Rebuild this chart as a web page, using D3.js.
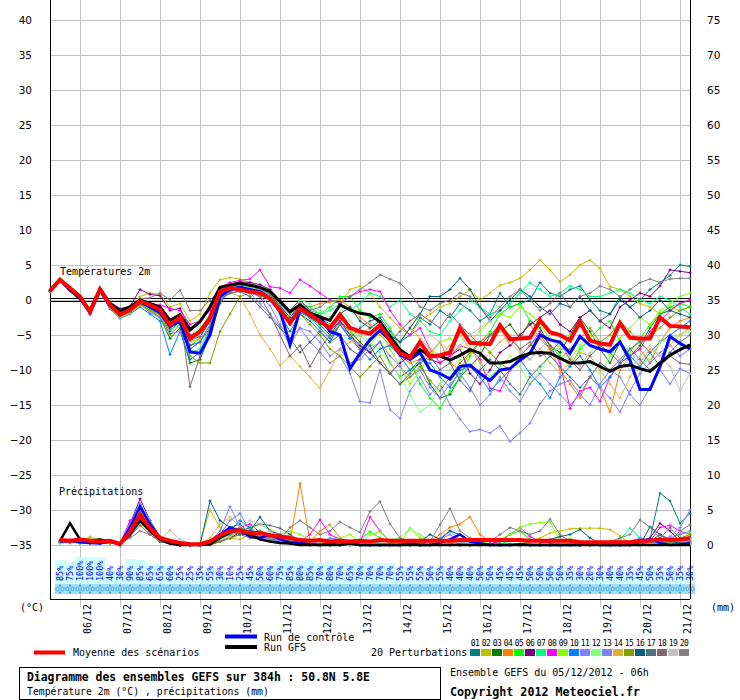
<!DOCTYPE html>
<html><head><meta charset="utf-8">
<script src="https://cdn.jsdelivr.net/npm/d3@7"></script>
<style>body{margin:0;background:#fff}svg{display:block}</style>
</head><body>
<svg id="c" width="740" height="700"></svg>
<script>
// ---------- tick labels / categories ----------
const tempTicks = [40,35,30,25,20,15,10,5,0,-5,-10,-15,-20,-25,-30,-35];
const precipTicks = [75,70,65,60,55,50,45,40,35,30,25,20,15,10,5,0];
const dates = ["06/12","07/12","08/12","09/12","10/12","11/12","12/12","13/12","14/12","15/12","16/12","17/12","18/12","19/12","20/12","21/12"];
const pertLabels = ["01","02","03","04","05","06","07","08","09","10","11","12","13","14","15","16","17","18","19","20"];
const pertColors = ["#008080","#c0c000","#008000","#ff8000","#00ff00","#800080","#00ff80","#ff00ff","#80ff00","#0080ff","#8080ff","#80ff80","#8080ff","#e0b040","#80a000","#006080","#507080","#806870","#c0c0c0","#808080"];

// ---------- temperature 2m (°C), 65 steps of 6h ----------
const tMean = [1.3,2.9,1.7,0.5,-1.7,1.5,-0.7,-2.1,-1.4,-0.2,-0.7,-1.4,-3.6,
 -2.4,-5.5,-4.5,-2.6,1.2,1.7,1.5,1.2,1.0,0.2,-1.4,-3.3,-1.2,
 -2.1,-3.1,-4.0,-2.1,-4.0,-4.5,-4.8,-3.6,-5.8,-7.6,-8.2,-6.0,-8.1,
 -7.9,-7.5,-4.0,-6.1,-6.2,-6.3,-3.6,-5.6,-5.5,-5.4,-2.9,-4.6,-5.0,
 -5.8,-3.1,-5.8,-6.2,-6.4,-3.3,-5.4,-5.5,-5.5,-2.5,-3.7,-3.8,-3.9];
const tGFS = [1.3,2.9,1.5,0.3,-1.5,1.6,-0.5,-1.5,-1.0,0.0,-0.5,-1.0,-2.9,
 -2.1,-4.3,-3.1,-1.0,1.8,2.1,2.4,2.1,1.8,1.2,-0.2,-1.7,-0.7,
 -1.9,-2.4,-2.9,-0.7,-1.4,-1.9,-2.1,-3.1,-5.2,-7.1,-8.1,-7.1,-7.9,
 -8.0,-8.6,-7.9,-7.1,-7.6,-9.0,-9.0,-8.8,-8.1,-7.6,-7.5,-7.6,-8.3,
 -9.0,-9.0,-8.8,-9.5,-10.2,-9.5,-9.3,-9.8,-10.2,-9.0,-7.9,-7.1,-6.4];
const tControl = [1.3,2.9,1.4,0.2,-1.8,1.4,-0.8,-2.0,-1.3,-0.3,-1.0,-1.8,-3.8,
 -3.0,-7.4,-7.6,-5.0,0.5,1.5,1.8,1.5,1.2,0.2,-1.5,-6.4,-1.4,
 -1.9,-2.4,-4.5,-5.0,-9.8,-7.6,-5.7,-4.3,-5.8,-7.8,-8.5,-7.5,-10.0,
 -10.5,-11.3,-9.5,-9.3,-10.5,-11.5,-10.0,-9.8,-8.6,-7.6,-5.0,-5.7,-6.0,
 -7.6,-5.2,-6.5,-7.0,-7.4,-6.0,-8.6,-12.8,-12.8,-9.5,-5.2,-6.2,-7.0];
const tP01 = [1.2,2.8,1.5,0.3,-1.9,1.3,-1.0,-2.3,-1.6,-0.5,-1.2,-1.9,-4.5,
 -3.0,-7.0,-6.0,-3.5,0.5,1.8,2.0,1.5,1.2,0.0,-2.0,-4.5,-2.0,
 -3.0,-4.5,-6.0,-3.5,-5.5,-4.0,-3.0,-2.5,-4.5,-6.0,-5.0,-2.5,-3.5,
 -1.5,-2.5,-0.5,-1.5,-3.0,-2.0,1.0,-1.0,-0.5,0.0,2.5,1.0,0.5,
 1.5,2.0,0.0,-1.5,-2.0,0.5,-1.0,0.0,1.5,2.5,3.5,5.0,4.8];
const tP02 = [1.4,2.9,1.8,0.6,-1.4,1.7,-0.4,-1.8,-1.0,0.5,1.0,0.8,-1.0,
 -0.5,-3.0,-2.0,1.0,2.9,3.2,3.0,2.5,1.8,0.5,-1.0,-2.5,-0.5,
 -1.0,-2.5,-3.0,-0.5,1.5,2.0,1.0,-1.0,-2.5,-4.0,-5.0,-3.0,-2.0,
 -1.0,-0.5,0.5,1.5,0.0,1.0,2.1,2.5,3.1,4.3,5.7,4.3,2.6,
 3.6,5.0,5.7,4.5,1.9,1.5,0.5,-0.5,-1.0,-2.0,-1.0,-1.5,-1.0];
const tP03 = [1.3,2.8,1.6,0.4,-1.8,1.4,-0.8,-2.4,-1.8,-0.6,-1.5,-2.5,-5.5,
 -4.0,-9.0,-8.5,-5.0,-0.5,1.5,2.2,2.0,1.5,0.5,-1.0,-3.0,-1.5,
 -2.5,-3.5,-5.0,-3.0,-4.5,-6.0,-7.5,-6.0,-9.0,-11.0,-10.0,-9.0,-12.0,
 -14.0,-13.5,-11.0,-9.5,-8.0,-5.0,-4.5,-3.5,-5.5,-3.0,-4.0,-6.5,-7.5,
 -5.0,-2.5,-4.5,-7.0,-9.0,-6.0,-8.0,-6.5,-4.0,-2.0,-1.5,-0.5,0.0];
const tP04 = [1.3,2.9,1.7,0.5,-1.6,1.5,-0.6,-2.0,-1.3,-0.3,-1.0,-2.0,-4.0,
 -3.0,-5.5,-5.0,-3.0,1.0,1.8,1.6,1.3,1.0,0.3,-1.5,-3.0,-0.8,
 -1.0,-0.5,-0.3,0.0,-1.0,-2.5,-3.5,-5.0,-6.5,-8.0,-9.0,-8.5,-7.5,
 -6.0,-9.0,-10.0,-7.5,-6.0,-5.0,-4.0,-6.5,-5.0,-3.5,-5.5,-7.0,-10.0,
 -12.0,-14.0,-11.0,-12.5,-16.0,-10.0,-8.0,-7.0,-9.0,-6.0,-4.0,-3.0,-2.5];
const tP05 = [1.4,2.9,1.8,0.6,-1.7,1.4,-0.7,-2.2,-1.5,-0.4,-1.0,-1.6,-3.5,
 -2.8,-6.5,-5.5,-3.0,0.8,1.6,1.8,1.4,1.0,0.2,-1.2,-2.8,-1.0,
 -1.5,-2.0,-1.0,0.5,0.5,-1.5,-2.5,-2.0,-4.0,-7.0,-8.5,-12.0,-14.0,
 -15.5,-13.0,-11.0,-8.0,-6.0,-4.5,-2.0,-1.0,-0.5,-3.0,-4.5,-6.5,-8.0,
 -9.5,-7.0,-5.5,-4.0,-3.0,-6.0,-7.5,-5.5,-3.5,-2.0,-1.0,-0.5,-1.0];
const tP06 = [1.2,2.8,1.6,0.5,-1.5,1.6,-0.5,-1.7,-0.9,1.5,0.8,0.6,-1.5,
 -1.2,-4.0,-3.0,-1.0,1.5,2.3,2.6,2.5,2.2,1.5,0.0,-1.5,0.0,
 -1.5,-3.0,-4.5,-3.0,-5.0,-6.5,-7.5,-9.0,-10.5,-9.0,-8.0,-7.0,-8.5,
 -9.0,-8.0,-7.0,-10.5,-12.0,-10.0,-7.5,-6.5,-5.0,-3.5,-2.5,-1.5,-3.5,
 -4.5,-2.5,-1.5,-3.0,-4.0,-1.0,0.0,1.0,0.5,2.0,4.3,4.1,3.9];
const tP07 = [1.3,2.8,1.6,0.3,-1.8,1.4,-0.8,-2.3,-1.7,-0.6,-1.3,-2.0,-4.2,
 -3.5,-7.5,-7.0,-4.0,0.5,1.5,1.7,1.5,1.3,0.3,-1.0,-2.5,-0.5,
 -1.0,-2.0,-1.5,-0.5,-1.5,-0.5,1.0,0.5,-1.0,0.0,-2.0,-3.0,-4.5,
 -5.0,-3.0,-1.5,0.0,-1.0,-2.0,-1.5,-0.5,1.0,2.5,1.5,0.5,1.0,
 2.0,1.5,0.5,0.5,1.0,1.5,1.0,0.0,-0.5,0.5,0.0,-1.0,-2.0];
const tP08 = [1.3,2.9,1.7,0.4,-1.6,1.6,-0.3,-1.2,-1.0,-0.5,-0.8,-0.7,-1.2,
 -1.5,-3.5,-3.0,-1.5,1.8,2.5,2.8,3.0,4.3,1.9,1.7,1.0,2.9,
 2.0,1.0,0.0,-0.5,0.5,1.2,1.5,1.2,-1.5,-3.5,-5.0,-4.0,-7.0,
 -9.0,-8.0,-6.5,-7.0,-8.5,-12.6,-13.0,-10.0,-8.0,-6.5,-4.5,-6.5,-9.0,
 -15.5,-13.0,-12.5,-14.5,-11.0,-9.0,-8.0,-7.0,-4.5,-3.0,-1.5,-0.5,0.0];
const tP09 = [1.4,2.8,1.6,0.3,-1.9,1.3,-1.0,-2.4,-1.5,-0.3,-1.0,-1.8,-3.8,
 -2.5,-6.0,-5.0,-2.5,0.3,1.2,1.5,1.2,0.8,0.0,-1.5,-3.5,-1.5,
 -2.0,-3.0,-4.0,-2.0,-4.5,-5.0,-6.5,-4.5,-7.0,-9.5,-12.0,-10.0,-8.0,
 -6.0,-5.5,-7.0,-6.0,-4.5,-3.0,-2.0,-2.5,-1.0,-2.0,-3.5,-5.5,-7.0,
 -8.5,-6.5,-5.0,-6.0,-8.0,-5.5,-4.0,-2.5,-3.5,-1.5,-0.5,0.5,1.0];
const tP10 = [1.2,2.7,1.4,0.1,-2.1,1.1,-1.3,-2.6,-2.0,-1.0,-2.0,-3.0,-7.8,
 -4.5,-8.5,-7.5,-4.5,0.0,1.2,1.8,1.6,1.2,0.0,-1.8,-3.5,-1.8,
 -2.5,-4.0,-5.5,-3.5,-5.5,-7.0,-8.5,-7.0,-6.5,-8.0,-10.0,-8.5,-9.0,
 -11.0,-12.5,-10.0,-9.5,-11.0,-13.0,-11.5,-10.0,-8.5,-10.5,-12.0,-14.0,-11.0,
 -9.5,-8.0,-10.0,-12.5,-11.0,-9.0,-8.0,-9.5,-7.5,-6.0,-5.0,-4.0,-3.0];
const tP11 = [1.3,2.8,1.6,0.4,-1.7,1.5,-0.5,-1.8,-1.2,-0.6,-1.8,-2.5,-4.8,
 -4.5,-6.5,-6.0,-3.5,0.2,1.0,1.3,1.0,0.5,-0.8,-3.5,-5.5,-4.0,
 -6.0,-7.5,-9.0,-8.0,-10.5,-14.5,-14.7,-10.0,-15.7,-16.9,-13.0,-11.0,-13.5,
 -12.0,-15.0,-17.0,-18.8,-18.5,-19.0,-18.0,-20.2,-19.0,-17.6,-14.8,-13.0,-12.0,
 -11.5,-13.5,-15.0,-12.0,-10.0,-11.0,-13.5,-15.0,-12.5,-10.0,-12.0,-9.8,-10.5];
const tP12 = [1.4,2.9,1.8,0.6,-1.5,1.6,-0.6,-2.0,-1.2,0.0,-0.5,-1.2,-3.0,
 -2.0,-5.0,-4.0,-2.0,1.0,2.0,2.2,1.8,1.4,0.5,-0.8,-2.0,0.0,
 -0.5,-1.5,-2.5,-1.0,-3.0,-4.5,-6.0,-7.5,-9.0,-11.0,-13.5,-16.0,-15.0,
 -12.0,-10.0,-8.5,-7.0,-9.0,-11.0,-9.5,-8.0,-9.5,-12.0,-10.0,-8.0,-6.5,
 -5.0,-6.5,-9.0,-10.5,-8.0,-6.0,-7.5,-9.0,-8.5,-6.0,-5.5,-5.0,-4.5];
const tP13 = [1.3,2.9,1.7,0.5,-1.6,1.5,-0.7,-2.1,-1.4,-0.3,-0.9,-1.5,-3.2,
 -2.2,-5.0,-4.5,-2.0,1.0,1.7,1.6,1.0,-0.5,-2.0,-3.8,-6.5,-4.0,
 -4.5,-6.0,-8.0,-7.0,-9.0,-8.5,-7.0,-6.0,-8.0,-9.5,-11.0,-10.0,-12.5,
 -14.0,-12.0,-10.5,-12.5,-15.0,-13.5,-11.0,-13.0,-14.5,-12.0,-10.5,-12.0,-13.5,
 -15.0,-13.5,-11.0,-12.5,-14.0,-16.0,-13.0,-10.5,-9.0,-7.5,-6.5,-8.0,-7.0];
const tP14 = [1.2,2.8,1.5,0.2,-2.0,1.2,-1.1,-2.5,-1.9,-0.8,-1.5,-2.2,-4.0,
 -3.0,-6.0,-5.5,-3.0,0.0,1.0,0.5,-2.0,-5.0,-7.0,-9.3,-8.0,-9.5,
 -11.0,-12.6,-10.0,-7.0,-6.0,-5.0,-4.0,-3.0,-5.0,-6.0,-4.0,-5.5,-7.0,
 -8.0,-6.5,-5.0,-7.0,-9.0,-7.5,-6.0,-5.0,-7.0,-8.5,-7.0,-9.0,-10.5,
 -9.0,-7.5,-8.0,-10.0,-12.0,-14.0,-11.0,-9.0,-7.0,-8.0,-6.5,-5.0,-4.0];
const tP15 = [1.3,2.8,1.6,0.3,-1.9,1.3,-0.9,-2.3,-1.7,-0.7,-1.4,-2.1,-5.0,
 -3.5,-8.0,-9.0,-9.0,-4.5,-2.0,0.5,1.0,0.8,0.0,-1.5,-3.0,-2.0,
 -3.5,-5.0,-7.0,-8.0,-9.5,-11.0,-9.5,-8.0,-10.5,-12.0,-11.0,-9.5,-11.5,
 -13.0,-11.0,-9.0,-7.5,-6.0,-7.5,-9.0,-10.0,-8.0,-6.5,-5.0,-7.0,-8.5,
 -7.0,-5.5,-4.0,-6.0,-5.0,-3.0,-4.5,-6.0,-5.0,-4.0,-2.5,-1.5,-1.0];
const tP16 = [1.3,2.9,1.6,0.4,-1.7,1.4,-0.8,-2.2,-1.5,-0.4,-1.0,-1.7,-3.6,
 -2.6,-5.8,-5.2,-3.0,0.8,1.9,2.1,2.0,1.7,0.8,-0.8,-2.5,-0.8,
 -1.5,-2.5,-3.5,-2.0,-1.0,-3.0,-4.0,-3.0,-5.0,-6.0,-4.0,-2.0,0.5,
 0.5,1.5,3.1,1.5,-1.0,-3.0,-1.5,0.0,1.5,0.5,-1.0,-2.0,-0.5,
 -1.0,0.5,-1.5,-3.0,-2.0,0.0,-1.0,-2.5,-1.5,0.0,-1.5,-2.0,-2.5];
const tP17 = [1.2,2.8,1.5,0.3,-1.8,1.3,-0.9,-2.2,-1.6,-0.4,-1.1,-1.9,-4.0,
 -3.0,-6.5,-6.0,-4.0,0.0,1.0,1.2,0.5,-1.0,-2.5,-4.0,-5.5,-7.5,
 -6.0,-4.5,-6.0,-5.0,-7.0,-8.0,-6.5,-9.0,-10.5,-12.0,-10.5,-9.0,-8.0,
 -10.0,-9.0,-11.5,-13.0,-10.0,-8.5,-10.0,-12.0,-13.5,-11.0,-9.5,-8.0,-9.5,
 -11.0,-12.5,-11.0,-9.0,-10.0,-8.5,-7.0,-8.5,-10.0,-9.0,-7.5,-6.0,-5.0];
const tP18 = [1.3,2.9,1.7,0.5,-1.6,1.5,-0.7,-2.1,-1.3,-0.2,-0.6,-1.2,-3.2,
 -2.0,-12.4,-8.0,-4.0,0.5,1.5,1.7,1.2,0.5,-2.0,-5.0,-8.0,-6.5,
 -9.5,-7.0,-5.0,-3.5,-5.0,-7.0,-5.5,-4.5,-6.0,-4.5,-3.0,-2.0,-3.0,
 -4.0,-2.0,-3.5,-5.0,-6.5,-5.0,-3.5,-5.5,-7.0,-6.0,-8.0,-7.5,-6.0,
 -8.5,-10.0,-8.0,-6.5,-7.5,-9.0,-7.0,-6.0,-7.5,-9.5,-8.0,-9.0,-9.2];
const tP19 = [1.3,2.8,1.6,0.4,-1.7,1.4,-0.8,-2.2,-1.4,-0.3,-0.9,-1.6,-3.8,
 -2.6,-6.0,-5.0,-2.8,0.8,1.8,2.2,2.0,1.7,0.9,-0.6,-2.2,-0.5,
 -1.5,-2.5,-3.5,-2.0,-4.0,-5.0,-4.5,-3.5,-5.5,-7.0,-8.0,-6.5,-5.0,
 -6.0,-7.5,-6.5,-5.0,-4.0,-3.0,-4.5,-6.0,-7.5,-8.5,-7.0,-5.5,-6.5,
 -8.0,-9.5,-7.5,-6.0,-7.0,-8.5,-10.0,-8.0,-6.5,-8.0,-9.5,-13.0,-10.5];
const tP20 = [1.4,2.9,1.8,0.6,-1.5,1.6,-0.5,-1.9,-1.1,0.2,0.3,1.0,0.0,
 1.4,-1.5,-1.5,0.0,1.5,2.2,2.4,2.0,1.5,0.8,-0.5,-2.0,-0.5,
 -1.5,-1.0,0.0,-0.5,0.5,1.5,2.5,3.6,3.0,2.4,1.0,-1.0,-1.5,
 -0.5,0.0,1.0,0.5,-1.0,-2.5,-1.0,0.5,1.5,0.0,-1.5,-0.5,1.0,
 -1.0,0.5,1.0,2.0,1.5,0.5,1.5,2.5,3.0,2.5,3.0,3.1,3.1];

// ---------- 6h precipitation (mm), steps 1..64 ----------
const pMean = [0.7,0.6,0.8,0.6,0.5,0.6,0.15,1.9,4.3,2.4,1.0,0.6,0.3,0.1,0.1,0.5,
 1.4,2.0,2.1,1.7,1.7,1.4,1.2,1.0,0.7,0.6,0.7,0.5,0.6,0.5,0.6,0.5,
 0.7,0.6,0.6,0.6,0.6,0.6,0.6,0.6,0.7,0.7,0.7,0.7,0.7,0.7,0.7,0.6,
 0.6,0.6,0.6,0.6,0.4,0.4,0.4,0.4,0.4,0.4,0.6,0.6,0.8,0.7,0.8,1.0];
const pControl = [0.5,0.6,0.4,0.3,0.2,0.5,0.1,2.5,5.5,3.0,1.0,0.4,0.2,0.1,0.0,0.3,
 1.5,2.5,2.0,1.2,1.0,1.5,0.8,0.4,0.3,0.1,0.0,0.2,0.5,0.3,0.0,0.0,
 0.0,0.0,0.0,0.2,0.0,0.0,0.3,0.8,1.5,0.5,0.2,0.0,0.0,0.0,0.1,0.0,
 0.0,0.0,0.0,0.0,0.0,0.2,0.0,0.0,0.0,0.0,0.5,0.8,0.3,0.0,0.1,0.2];
const pGFS = [0.6,3.1,0.8,0.6,0.8,0.5,0.2,1.5,3.5,2.0,0.8,0.2,0.0,0.0,0.0,0.1,
 1.0,1.8,2.2,1.5,0.8,0.5,0.3,0.2,0.0,0.0,0.0,0.0,0.0,0.2,0.0,0.0,
 0.0,0.0,0.0,0.0,0.0,0.0,0.0,0.0,0.0,0.0,0.0,0.0,0.0,0.0,0.0,0.0,
 0.0,0.0,0.0,0.0,0.0,0.0,0.0,0.0,0.0,0.0,0.0,0.0,0.0,0.0,0.0,0.0];
const pP01 = [0.5,0.4,0.6,0.3,0.4,0.3,0.2,2.0,4.5,2.5,0.8,0.3,0.0,0.0,0.0,0.2,
 1.2,2.5,3.0,1.5,0.8,0.6,0.5,0.2,0.1,0.0,0.0,0.3,0.2,0.0,0.0,0.0,
 0.0,0.0,0.2,0.5,0.3,0.0,0.0,0.0,0.2,0.0,0.0,0.0,0.1,0.0,0.0,0.0,
 0.0,0.0,0.0,0.2,0.0,0.0,0.0,0.0,0.0,0.3,0.5,0.8,7.4,6.3,3.1,4.5];
const pP02 = [0.4,0.5,0.3,1.0,0.8,0.3,0.1,1.8,4.0,2.8,0.5,0.3,0.2,0.1,0.3,5.0,
 2.5,1.0,0.8,1.5,2.0,1.0,0.5,0.3,0.2,0.0,0.0,0.0,0.3,0.0,0.0,0.0,
 0.0,0.0,0.0,0.0,0.0,0.0,0.0,0.2,0.5,0.3,0.0,0.0,0.0,0.0,0.2,0.5,
 1.0,1.7,2.0,2.3,2.4,2.4,2.4,2.2,1.3,0.3,0.0,0.0,0.2,0.5,0.8,1.0];
const pP03 = [0.3,0.4,0.5,0.2,0.3,0.6,0.0,2.2,4.8,3.2,1.0,0.5,0.0,0.0,0.0,0.2,
 0.5,1.0,1.5,1.5,1.2,1.0,0.8,0.5,0.3,0.2,0.2,0.5,0.3,0.0,0.0,0.0,
 0.2,0.0,0.0,0.0,0.0,0.0,0.3,0.5,0.2,0.0,0.0,0.0,0.0,0.0,0.0,0.0,
 0.0,0.0,0.0,0.0,0.0,0.0,0.0,0.0,0.2,0.4,0.3,0.5,0.8,0.5,0.3,0.2];
const pP04 = [0.6,0.5,0.4,0.5,0.7,0.3,0.2,1.5,3.5,2.0,0.6,0.2,0.0,0.0,0.0,0.5,
 1.5,2.0,1.8,1.2,1.5,1.0,0.6,0.4,8.8,0.5,2.0,2.9,1.0,0.3,0.2,0.0,
 0.0,0.2,0.5,0.3,0.2,0.5,1.5,2.5,3.0,4.0,1.5,0.5,0.2,0.0,0.0,0.0,
 0.0,0.0,0.0,0.0,0.2,0.0,0.0,0.3,0.0,0.0,0.0,0.0,0.5,0.3,0.2,0.5];
const pP05 = [0.4,0.3,0.5,0.3,0.2,0.4,0.1,2.8,4.2,2.5,0.8,0.3,0.0,0.0,0.0,0.1,
 0.8,1.2,2.0,1.8,1.5,0.8,1.0,1.5,0.6,0.3,0.8,0.2,0.0,0.0,0.8,1.9,
 1.0,0.3,0.0,0.0,0.0,0.0,0.0,0.0,0.2,0.3,0.0,0.0,0.5,1.5,2.0,0.8,
 0.3,0.5,0.2,0.0,0.0,0.0,0.0,0.0,0.0,0.2,0.3,0.5,0.3,0.2,0.0,0.0];
const pP06 = [0.5,0.7,0.3,0.4,0.3,0.4,0.0,3.0,6.6,3.5,1.2,0.3,0.0,0.0,0.0,0.0,
 0.5,1.0,1.8,2.2,1.5,1.0,0.8,0.5,0.3,0.2,0.0,0.0,0.0,0.0,0.0,0.0,
 0.0,0.0,0.0,0.0,0.0,0.0,0.0,0.2,0.0,0.0,0.0,0.0,0.0,0.0,0.0,0.0,
 0.0,0.0,0.0,0.0,0.0,0.0,0.0,0.0,0.0,0.2,0.5,1.0,3.1,2.0,0.5,0.3];
const pP07 = [0.3,0.4,0.3,0.6,0.4,0.2,0.2,1.5,3.0,2.2,0.5,0.2,0.0,0.0,0.1,0.3,
 1.2,1.8,2.5,2.0,1.5,1.0,0.6,0.8,0.5,0.3,0.2,0.0,0.0,0.0,0.2,0.5,
 0.3,0.0,0.0,0.0,0.0,0.0,0.2,0.0,0.0,0.3,0.5,0.8,0.5,0.2,0.0,0.0,
 0.0,0.0,0.0,0.0,0.0,0.0,0.0,0.3,0.8,2.4,1.0,0.5,0.2,0.0,0.0,0.2];
const pP08 = [0.5,0.4,0.5,0.3,0.2,0.5,0.2,3.5,5.0,2.0,0.5,0.2,0.0,0.0,0.0,0.2,
 1.0,1.5,2.5,3.0,1.8,1.2,0.8,0.5,0.5,1.5,3.6,1.5,0.8,0.5,0.3,4.0,
 2.0,0.5,0.3,0.2,0.0,0.0,0.0,0.3,0.0,0.0,0.0,0.2,0.5,1.5,2.5,1.2,
 0.5,0.3,0.0,0.0,0.0,0.0,0.0,0.0,0.0,0.0,0.2,0.5,2.5,2.8,2.0,1.5];
const pP09 = [0.4,0.5,0.3,0.4,0.3,0.3,0.1,2.0,4.0,3.0,0.8,0.4,0.2,0.0,0.0,0.3,
 1.0,1.5,1.8,2.2,3.0,2.2,1.5,2.0,1.5,0.8,0.5,0.3,1.0,1.5,0.3,1.5,
 1.9,0.5,0.2,2.4,1.0,0.5,0.2,0.0,0.0,0.0,0.3,0.5,0.8,1.5,2.5,3.0,
 3.2,3.3,0.5,0.2,0.0,0.0,0.0,0.0,0.0,0.0,0.0,0.0,0.2,0.5,1.5,1.8];
const pP10 = [0.6,0.5,0.4,0.2,0.3,0.4,0.0,2.5,4.5,2.8,0.8,0.3,0.0,0.0,0.0,0.2,
 0.8,2.0,3.5,2.5,1.5,1.0,0.5,0.3,0.2,0.0,0.0,0.0,0.2,0.0,0.0,0.0,
 0.0,0.0,0.0,0.0,0.0,0.0,0.0,0.0,0.3,0.5,0.3,0.0,0.0,0.0,0.0,0.0,
 0.0,0.0,0.0,0.0,0.0,0.0,0.0,0.0,0.0,0.0,0.2,0.3,0.5,0.2,0.5,1.0];
const pP11 = [0.4,0.5,0.6,0.3,0.3,0.5,0.1,3.0,6.0,3.5,1.0,0.5,0.2,0.0,0.0,0.5,
 2.0,5.5,2.5,1.5,1.0,0.8,0.5,0.3,0.2,0.2,0.5,1.0,0.8,0.5,0.3,0.0,
 0.0,0.0,0.0,0.5,0.2,0.0,0.8,1.5,0.5,0.3,0.0,0.0,0.0,0.0,0.2,0.0,
 0.0,0.0,0.0,0.0,0.0,0.0,0.0,0.0,0.0,0.5,1.0,0.8,0.5,1.2,2.5,5.0];
const pP12 = [0.3,0.4,0.5,0.4,0.3,0.3,0.2,2.0,3.8,2.5,0.6,0.2,0.0,0.0,0.0,0.2,
 1.0,1.5,2.0,2.5,1.5,1.0,0.8,0.5,0.3,0.0,0.0,0.0,0.0,0.0,0.0,0.5,
 0.5,0.8,1.0,2.4,1.5,0.5,0.3,0.0,0.0,0.0,0.0,0.0,0.0,0.0,0.0,0.0,
 0.0,0.0,0.5,1.0,0.5,0.3,0.0,0.0,0.0,0.0,0.2,0.5,0.3,0.2,0.5,0.8];
const pP13 = [0.5,0.6,0.3,0.4,0.5,0.3,0.0,2.8,5.8,3.0,0.8,0.3,0.0,0.0,0.0,0.3,
 1.5,3.5,4.5,2.0,1.2,0.8,0.6,0.5,0.3,0.0,0.0,0.0,0.0,0.0,0.0,0.0,
 0.0,0.0,0.0,0.0,0.3,0.5,1.0,2.0,0.8,0.3,0.0,0.0,0.0,0.0,0.0,0.0,
 0.0,0.0,0.0,0.0,0.0,0.0,0.0,0.0,0.0,0.0,0.0,0.3,0.8,1.0,1.5,2.0];
const pP14 = [0.4,0.3,0.5,1.2,0.6,0.3,0.1,1.5,3.0,1.8,0.5,0.2,0.0,0.0,0.2,1.0,
 3.0,4.0,2.5,1.5,0.8,0.5,0.3,0.2,0.0,0.0,0.2,0.5,0.3,0.2,0.0,0.0,
 0.0,0.0,0.0,0.0,0.0,0.0,0.0,0.3,0.5,0.8,0.3,0.2,0.0,0.0,0.0,0.0,
 0.0,0.0,0.0,0.0,0.0,0.0,0.0,0.5,0.8,0.5,0.2,0.0,0.0,0.0,0.0,0.2];
const pP15 = [0.5,0.4,0.4,0.3,0.4,0.3,0.2,2.2,4.8,3.0,0.8,0.3,0.0,0.0,0.0,0.1,
 0.5,1.0,1.5,1.8,2.0,1.5,1.0,0.5,0.3,0.2,0.0,0.0,0.0,0.0,0.0,0.0,
 0.0,0.0,0.0,0.0,0.0,0.0,0.0,0.0,0.0,0.0,0.0,0.0,0.0,0.0,0.0,0.0,
 0.0,0.0,0.0,0.0,0.0,0.0,0.0,0.0,0.0,0.2,0.3,0.2,0.0,0.5,1.0,1.5];
const pP16 = [0.5,0.5,0.4,0.3,0.3,0.4,0.1,1.5,4.2,2.5,0.5,0.2,0.0,0.0,0.0,6.3,
 3.5,2.5,1.5,2.0,4.0,2.0,1.5,0.8,0.3,0.2,0.0,0.0,0.0,0.0,0.0,0.0,
 0.0,0.0,0.0,0.0,0.5,1.5,0.8,2.0,1.5,0.5,0.3,0.2,0.0,0.0,0.0,0.5,
 0.5,0.8,1.2,1.5,2.2,1.0,0.3,0.0,0.0,0.0,0.0,2.6,1.5,0.5,0.3,0.2];
const pP17 = [0.4,0.4,0.5,0.3,0.2,0.5,0.0,1.8,3.5,2.0,0.6,0.2,0.0,0.0,0.0,0.3,
 1.0,1.5,2.0,2.5,3.0,2.8,2.4,1.5,0.5,0.2,0.0,0.0,0.0,0.0,0.0,0.0,
 0.0,0.0,0.0,0.0,0.0,0.0,0.0,0.0,0.0,0.0,0.0,0.0,0.0,0.0,0.0,0.0,
 0.0,0.0,0.0,0.0,0.0,0.0,0.0,0.0,0.0,0.0,0.0,0.5,1.5,0.8,0.3,0.5];
const pP18 = [0.5,0.4,0.3,0.4,0.3,0.3,0.1,1.2,2.8,1.5,0.5,0.3,0.0,0.0,0.0,0.5,
 1.5,2.0,1.5,1.0,0.8,0.5,0.3,0.2,0.0,0.0,0.0,0.0,0.2,0.5,0.3,0.0,
 0.0,0.0,0.0,0.0,0.0,0.0,0.0,0.0,0.0,0.0,0.0,0.0,0.0,0.0,0.0,0.0,
 0.0,0.0,0.0,0.0,0.0,0.0,0.0,0.0,0.0,0.0,0.2,0.5,1.0,2.5,1.0,0.5];
const pP19 = [0.4,0.5,0.4,0.3,0.3,0.4,0.1,1.8,3.2,2.0,0.8,2.1,0.8,0.2,0.0,0.2,
 0.8,1.2,2.5,3.5,3.0,2.0,1.0,0.5,0.3,0.2,0.0,0.0,0.0,0.0,0.2,0.3,
 0.2,0.0,0.0,0.0,0.0,0.0,0.0,0.0,0.5,0.3,0.0,0.0,0.0,0.0,0.0,0.2,
 0.5,0.8,0.3,0.0,0.0,0.0,0.0,0.0,0.0,0.0,0.0,0.2,0.3,0.0,0.0,0.2];
const pP20 = [0.4,0.4,0.4,0.3,0.3,0.4,0.2,1.0,2.0,1.5,0.5,0.2,0.0,0.0,0.0,0.2,
 1.2,1.5,2.5,1.8,1.2,1.0,0.8,2.5,3.5,2.5,1.5,2.0,3.3,2.5,1.8,4.8,
 6.2,3.0,1.0,0.5,0.3,0.5,2.9,5.2,2.0,1.0,0.5,0.5,1.5,2.5,2.0,1.5,
 2.0,3.7,1.5,0.5,0.0,0.0,0.0,0.5,1.0,1.5,3.6,2.5,1.0,0.5,2.0,2.9];

// ---------- probability of precipitation (%), steps 1..64 ----------
const pct = [85,75,100,100,100,40,30,90,85,65,65,60,25,25,35,55,30,10,25,45,50,60,75,85,80,85,70,80,70,65,70,70,
 70,70,55,55,55,50,55,40,40,40,50,50,45,45,45,50,50,50,50,35,30,20,30,40,40,35,45,50,35,50,35,30];

const tPerts = [tP01,tP02,tP03,tP04,tP05,tP06,tP07,tP08,tP09,tP10,tP11,tP12,tP13,tP14,tP15,tP16,tP17,tP18,tP19,tP20];
const pPerts = [pP01,pP02,pP03,pP04,pP05,pP06,pP07,pP08,pP09,pP10,pP11,pP12,pP13,pP14,pP15,pP16,pP17,pP18,pP19,pP20];

// ---------- drawing ----------
const svg = d3.select("#c");
const MONO = "'DejaVu Sans Mono', monospace";
const x = d3.scaleLinear().domain([0,64]).range([50,690]);
const yT = d3.scaleLinear().domain([-35,40]).range([545,20]);
const yP = d3.scaleLinear().domain([0,75]).range([545,20]);
const yPct = d3.scaleLinear().domain([0,100]).range([578.7,556.7]);
const dayIdx = dates.map((d,i)=>3+4*i);

svg.append("rect").attr("width",740).attr("height",700).attr("fill","#fff");

// grid
const grid = svg.append("g").attr("stroke","#c0c0c0").attr("stroke-width",1).attr("shape-rendering","crispEdges");
tempTicks.forEach(v=>grid.append("line").attr("x1",50).attr("x2",690).attr("y1",yT(v)).attr("y2",yT(v)));
dayIdx.forEach(k=>grid.append("line").attr("x1",x(k)).attr("x2",x(k)).attr("y1",0).attr("y2",607));

// probability bars
svg.append("g").selectAll("rect").data(pct).join("rect")
  .attr("x",(d,i)=>x(i+1)-5).attr("width",10)
  .attr("y",d=>yPct(d)).attr("height",d=>583-yPct(d))
  .attr("fill","#ccffff").attr("shape-rendering","crispEdges");
svg.append("g").selectAll("text").data(pct).join("text")
  .attr("transform",(d,i)=>`translate(${x(i+1)-0.5},581) rotate(-90)`)
  .attr("dominant-baseline","central")
  .attr("font-family",MONO).attr("font-size",8.5).attr("fill","#0000ff")
  .text(d=>d+"%");

// precipitation symbol band
const band = svg.append("g");
band.append("rect").attr("x",55).attr("y",584).attr("width",640).attr("height",10).attr("fill","#a6dcf5");
pct.forEach((d,i)=>{
  const cx = x(i+1);
  [-2.5,2.5].forEach(o=>band.append("circle").attr("cx",cx+o).attr("cy",589).attr("r",2.4).attr("fill","#62bdef"));
  band.append("circle").attr("cx",cx).attr("cy",585.5).attr("r",1.1).attr("fill","#3b95dc");
  band.append("circle").attr("cx",cx).attr("cy",592.5).attr("r",1.1).attr("fill","#3b95dc");
  band.append("circle").attr("cx",cx-2.5).attr("cy",589).attr("r",0.8).attr("fill","#e8f8ff");
  band.append("circle").attr("cx",cx+2.5).attr("cy",589).attr("r",0.8).attr("fill","#e8f8ff");
});

// frame
const fr = svg.append("g").attr("stroke","#000").attr("stroke-width",1).attr("shape-rendering","crispEdges");
fr.append("line").attr("x1",50).attr("x2",50).attr("y1",0).attr("y2",599);
fr.append("line").attr("x1",690).attr("x2",690).attr("y1",0).attr("y2",599);
fr.append("line").attr("x1",50).attr("x2",690).attr("y1",599).attr("y2",599);

// zero line (double)
fr.append("line").attr("x1",50).attr("x2",690).attr("y1",yT(0)-2).attr("y2",yT(0)-2);
fr.append("line").attr("x1",50).attr("x2",690).attr("y1",yT(0)+1.5).attr("y2",yT(0)+1.5);

// series
const lineT = d3.line().x((d,i)=>x(i)).y(d=>yT(d));
const lineP = d3.line().x((d,i)=>x(i+1)).y(d=>yP(d));
const marks = (s, yy, off) => s.map((d,i)=>{const px=x(i+off), py=yy(d); return `M${px-1.5},${py}h3M${px},${py-1.5}v3`;}).join("");
const gL = svg.append("g").attr("fill","none");
tPerts.forEach((s,j)=>{
  gL.append("path").attr("d",lineT(s)).attr("stroke",pertColors[j]).attr("stroke-width",1);
  gL.append("path").attr("d",marks(s,yT,0)).attr("stroke",pertColors[j]).attr("stroke-width",1);
});
pPerts.forEach((s,j)=>{
  gL.append("path").attr("d",lineP(s)).attr("stroke",pertColors[j]).attr("stroke-width",1);
  gL.append("path").attr("d",marks(s,yP,1)).attr("stroke",pertColors[j]).attr("stroke-width",1);
});
gL.append("path").attr("d",lineT(tControl)).attr("stroke","#0000ff").attr("stroke-width",3);
gL.append("path").attr("d",lineP(pControl)).attr("stroke","#0000ff").attr("stroke-width",2.5);
gL.append("path").attr("d",lineT(tGFS)).attr("stroke","#000").attr("stroke-width",3);
gL.append("path").attr("d",lineP(pGFS)).attr("stroke","#000").attr("stroke-width",2.5);
gL.append("path").attr("d",lineT(tMean)).attr("stroke","#ff0000").attr("stroke-width",4);
gL.append("path").attr("d",lineP(pMean)).attr("stroke","#ff0000").attr("stroke-width",4);

// axes
const axL = svg.append("g").attr("transform","translate(50,0)")
  .call(d3.axisLeft(yT).tickValues(tempTicks).tickSize(0).tickPadding(18));
const axR = svg.append("g").attr("transform","translate(690,0)")
  .call(d3.axisRight(yP).tickValues(precipTicks).tickSize(0).tickPadding(17));
[axL,axR].forEach(a=>{a.select(".domain").remove();
  a.selectAll("text").attr("font-family","'DejaVu Sans', sans-serif").attr("font-size",10.5).attr("fill","#000");});

// date labels
svg.append("g").selectAll("text").data(dates).join("text")
  .attr("transform",(d,i)=>`translate(${x(dayIdx[i])+7},604) rotate(-90)`)
  .attr("text-anchor","end").attr("dominant-baseline","central")
  .attr("font-family",MONO).attr("font-size",10).attr("fill","#000")
  .text(d=>d);

const txt = (s,px,py,size,opt={}) => svg.append("text").attr("x",px).attr("y",py)
  .attr("font-family",MONO).attr("font-size",size).attr("fill","#000")
  .attr("font-weight",opt.bold?"bold":"normal").attr("text-anchor",opt.anchor||"start").text(s);

txt("Températures 2m",60,275,10);
txt("Précipitations",59,495,10);
txt("(°C)",20,611,10);
txt("(mm)",711,611,10);

// legend
svg.append("rect").attr("x",225).attr("y",634.5).attr("width",32).attr("height",4).attr("fill","#0000ff");
txt("Run de contrôle",264,641,10);
svg.append("rect").attr("x",225).attr("y",645).attr("width",32).attr("height",4).attr("fill","#000");
txt("Run GFS",264,651,10);
svg.append("rect").attr("x",34).attr("y",650.5).attr("width",31).attr("height",4).attr("fill","#ff0000");
txt("Moyenne des scénarios",73,656,10);
txt("20 Perturbations",371,656,10);
svg.append("g").selectAll("rect").data(pertColors).join("rect")
  .attr("x",(d,i)=>470+11*i).attr("y",649).attr("width",10).attr("height",7).attr("fill",d=>d);
svg.append("g").selectAll("text").data(pertLabels).join("text")
  .attr("x",(d,i)=>475+11*i).attr("y",646).attr("text-anchor","middle")
  .attr("font-family",MONO).attr("font-size",8).attr("letter-spacing",-0.6).attr("fill","#000")
  .text(d=>d);

svg.append("rect").attr("x",19.5).attr("y",667.5).attr("width",421).attr("height",32)
  .attr("fill","none").attr("stroke","#000").attr("stroke-width",1);
txt("Diagramme des ensembles GEFS sur 384h : 50.8N 5.8E",27,681,11.4,{bold:true});
txt("Température 2m (°C) , précipitations (mm)",27,695,9.8);
txt("Ensemble GEFS du 05/12/2012 - 06h",450,676,10);
txt("Copyright 2012 Meteociel.fr",450,696,11.7,{bold:true});
</script>
</body></html>
